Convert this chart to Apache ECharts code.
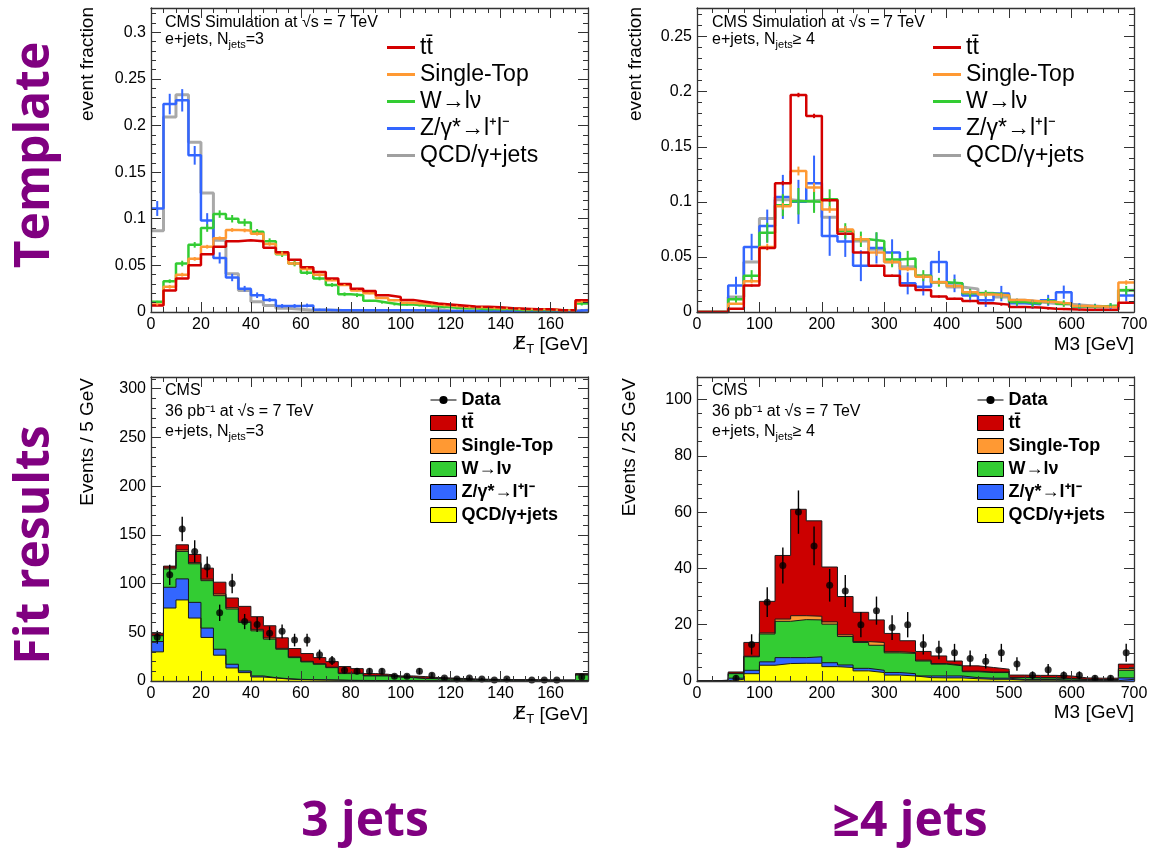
<!DOCTYPE html>
<html>
<head>
<meta charset="utf-8">
<script src="https://cdn.jsdelivr.net/npm/echarts@6/dist/echarts.min.js"></script>
<style>
  html, body { margin: 0; padding: 0; background: #ffffff; }
  #chart { width: 1149px; height: 848px; }
</style>
</head>
<body>
<div id="chart"></div>
<script>
// ---------------- binning ----------------
const MET_BIN_WIDTH = 5;    // GeV per bin, missing transverse energy (0-175)
const M3_BIN_WIDTH = 25;    // GeV per bin, M3 (0-700)

// process names, shared by templates, fitted stacks and legends
const processNames = ['tt\u0304', 'Single-Top', 'W\u2192l\u03bd', 'Z/\u03b3*\u2192l\u207al\u207b', 'QCD/\u03b3+jets'];

// ---------------- templates, e+jets, N_jets = 3 (missing ET), unit area ----------------
const ttTemplate3  = [0.007,0.023,0.036,0.050,0.062,0.070,0.076,0.077,0.076,0.069,0.064,0.056,0.048,0.043,0.036,0.030,0.025,0.0225,0.018,0.016,0.013,0.011,0.009,0.008,0.007,0.006,0.0055,0.005,0.004,0.0035,0.003,0.003,0.002,0.002,0.0125];
const stTemplate3  = [0.008,0.027,0.040,0.057,0.070,0.079,0.088,0.0875,0.084,0.073,0.0625,0.052,0.046,0.040,0.034,0.029,0.023,0.020,0.015,0.0125,0.010,0.009,0.008,0.007,0.006,0.005,0.005,0.004,0.004,0.003,0.003,0.003,0.002,0.002,0.011];
const wTemplate3   = [0.011,0.033,0.052,0.072,0.090,0.105,0.100,0.096,0.086,0.076,0.062,0.052,0.042,0.036,0.029,0.019,0.018,0.012,0.010,0.008,0.008,0.007,0.006,0.005,0.004,0.004,0.003,0.003,0.003,0.002,0.002,0.002,0.002,0.002,0.009];
const zTemplate3   = [0.111,0.223,0.227,0.168,0.098,0.058,0.037,0.025,0.018,0.013,0.0065,0.0065,0.007,0.0025,0.002,0.002,0.002,0.002,0.002,0.002,0.002,0.002,0.001,0.001,0.001,0.001,0.001,0.001,0.001,0.001,0.001,0.001,0.001,0.001,0.002];
const qcdTemplate3 = [0.087,0.209,0.233,0.182,0.1275,0.077,0.041,0.023,0.011,0.007,0.004,0.003,0.002,0.002,0.002,0.001,0.001,0.001,0.001,0.001,0.001,0.001,0.003,0.001,0.001,0.001,0.001,0.001,0.001,0.001,0.001,0.001,0.001,0.001,0.002];
// statistical uncertainties of the templates
const stTemplateErr3 = [0.001,0.002,0.002,0.002,0.002,0.002,0.002,0.002,0.002,0.002,0.002,0.002,0.002,0.002,0.001,0.001,0.001,0.001,0.001,0.001,0.001,0.001,0.001,0.001,0.001,0.001,0.001,0.001,0.001,0.001,0.001,0.001,0.001,0.001,0.001];
const wTemplateErr3  = [0.001,0.002,0.003,0.003,0.004,0.004,0.004,0.004,0.003,0.003,0.003,0.003,0.002,0.002,0.002,0.002,0.002,0.001,0.001,0.001,0.001,0.001,0.001,0.001,0.001,0.001,0.001,0.001,0.001,0.001,0.001,0.001,0.001,0.001,0.002];
const zTemplateErr3  = [0.008,0.011,0.012,0.010,0.008,0.006,0.004,0.003,0.003,0.002,0.002,0.002,0.002,0.001,0.001,0.001,0.001,0.001,0.001,0.001,0.001,0.001,0.001,0.001,0.001,0.001,0.001,0.001,0.001,0.001,0.001,0.001,0.001,0.001,0.001];

// ---------------- templates, e+jets, N_jets >= 4 (M3), unit area ----------------
const ttTemplate4  = [0,0,0.003,0.024,0.058,0.117,0.197,0.178,0.1015,0.071,0.054,0.042,0.033,0.024,0.020,0.014,0.012,0.010,0.008,0.0067,0.0045,0.004,0.003,0.0025,0.002,0.002,0.002,0.0085];
const stTemplate4  = [0,0,0.0075,0.028,0.059,0.096,0.128,0.113,0.093,0.075,0.066,0.054,0.0455,0.039,0.032,0.027,0.0236,0.018,0.016,0.015,0.011,0.0097,0.009,0.0076,0.0055,0.005,0.0045,0.0267];
const wTemplate4   = [0,0,0.0115,0.033,0.072,0.097,0.1006,0.100,0.1024,0.0736,0.066,0.0645,0.0476,0.0485,0.033,0.027,0.026,0.017,0.0167,0.015,0.009,0.0076,0.0097,0.0076,0.005,0.005,0.006,0.0197];
const zTemplate4   = [0,0,0.024,0.059,0.078,0.1045,0.100,0.117,0.069,0.064,0.042,0.058,0.054,0.026,0.023,0.0455,0.026,0.015,0.0106,0.0167,0.008,0.007,0.0106,0.018,0.005,0.0045,0.005,0.015];
const qcdTemplate4 = [0,0,0.0136,0.0455,0.085,0.102,0.1006,0.1015,0.086,0.074,0.0645,0.057,0.0455,0.041,0.033,0.027,0.0227,0.021,0.017,0.0136,0.0106,0.009,0.0076,0.007,0.006,0.005,0.005,0.0197];
const ttTemplateErr4 = [0,0,0.0005,0.001,0.0015,0.002,0.002,0.002,0.0015,0.0012,0.001,0.001,0.001,0.001,0.001,0.001,0.001,0.001,0.001,0.001,0.0008,0.0008,0.0008,0.0008,0.0008,0.0008,0.0008,0.001];
const stTemplateErr4 = [0,0,0.001,0.002,0.003,0.003,0.004,0.004,0.003,0.003,0.003,0.003,0.002,0.002,0.002,0.002,0.002,0.002,0.002,0.002,0.001,0.001,0.001,0.001,0.001,0.001,0.001,0.002];
const wTemplateErr4  = [0,0,0.003,0.005,0.009,0.010,0.012,0.010,0.009,0.007,0.007,0.008,0.007,0.007,0.005,0.004,0.004,0.004,0.003,0.003,0.003,0.003,0.003,0.003,0.002,0.002,0.002,0.004];
const zTemplateErr4  = [0,0,0.008,0.012,0.015,0.020,0.020,0.025,0.018,0.014,0.014,0.014,0.012,0.010,0.008,0.010,0.008,0.006,0.006,0.007,0.004,0.004,0.005,0.006,0.003,0.003,0.003,0.005];

// ---------------- fit results, N_jets = 3: events / 5 GeV ----------------
const ttFit3  = [2.0,1.9,5.3,8.4,11.3,12.1,10.0,15.3,13.0,12.4,10.8,8.6,8.0,6.3,5.7,6.6,4.7,2.0,1.4,0.9,1.4,1.7,1.1,0.9,0.6,0.5,0.5,0.4,0.3,0.3,0.2,0.2,0.2,0.2,1.1];
const stFit3  = [0.6,1.0,1.5,1.2,1.5,1.7,1.3,1.2,1.5,1.3,0.9,0.7,0.6,0.5,0.5,0.6,0.4,0.4,0.3,0.3,0.3,0.3,0.2,0.2,0.2,0.2,0.1,0.1,0.1,0.1,0.1,0.1,0.1,0.1,0.3];
const wFit3   = [5.9,18.8,28.2,39.6,48.7,55.0,56.7,49.8,46.3,39.6,30.2,22.3,18.2,16.0,12.7,6.9,7.0,4.7,4.7,3.6,3.1,2.2,2.0,1.8,1.6,1.3,1.1,1.0,0.9,0.8,0.8,0.7,0.6,0.6,5.5];
const zFit3   = [10.6,21.3,21.6,16.1,9.6,6.1,3.8,1.7,1.1,0.3,0.4,0.3,0.2,0.2,0.2,0.1,0.1,0.1,0.1,0.1,0.1,0.1,0.1,0,0,0,0,0,0,0,0,0,0,0,0.2];
const qcdFit3 = [29.9,74.9,83.2,64.6,44.7,26.5,13.4,8.6,4.1,3.1,2.0,1.4,1.2,1.0,0.8,0.6,0.5,0.4,0.4,0.3,0.3,0.2,0.2,0.2,0.2,0.1,0.1,0.1,0.1,0.1,0.1,0.1,0.1,0.1,0.5];
const data3    = [45,109,156,133,117,70,100,61,58,49,51,42,42,27,21,11,10,10,10,5,5,10,6,3,2,3,2,1,2,0,1,1,1,0,4];
const dataErr3 = [6.7,10.4,12.5,11.5,10.8,8.4,10,7.8,7.6,7,7.1,6.5,6.5,5.2,4.6,3.3,3.2,3.2,3.2,2.2,2.2,3.2,2.4,1.7,1.4,1.7,1.4,1,1.4,0,1,1,1,0,2];

// ---------------- fit results, N_jets >= 4: events / 25 GeV ----------------
const ttFit4  = [0,0.1,0.5,4.9,11.2,22.6,37.8,33.9,19.5,13.6,10.4,8.0,6.5,4.2,3.1,2.7,1.5,1.9,1.6,1.0,0.8,0.8,0.8,0.9,0.5,0.5,0.5,1.6];
const stFit4  = [0,0,0.1,0.2,0.4,0.8,1.4,1.3,0.8,0.6,0.3,1.0,0.4,0.3,0.3,0.2,0.2,0.2,0.2,0.2,0.1,0.1,0.1,0.1,0.1,0,0,0.6];
const wFit4   = [0,0.1,1.6,4.8,9.9,12.9,13.5,13.1,13.7,10.1,9.2,8.9,7.0,7.2,5.3,4.2,3.6,2.1,2.0,2.0,0.7,0.6,0.6,0.5,0.3,0.3,0.3,2.7];
const zFit4   = [0,0,0.4,1.2,1.2,2.1,2.0,2.3,1.4,0.9,0.9,0.8,0.9,0.8,0.6,0.7,0.7,0.4,0.4,0.4,0.2,0.2,0.2,0.1,0.1,0.1,0.1,0.5];
const qcdFit4 = [0,0.1,0.6,2.6,5.6,6.2,6.3,6.3,5.1,4.8,3.6,3.0,2.1,1.8,1.2,1.1,1.1,0.8,0.6,0.6,0.3,0.3,0.3,0.2,0.1,0.1,0.1,0.6];
const data4    = [0,0,1,13,28,41,60,48,34,32,20,25,19,20,13,11,10,8,7,10,6,2,4,2,2,1,1,10];
const dataErr4 = [0,0,1,3.6,5.3,6.4,7.7,6.9,5.8,5.7,4.5,5,4.4,4.5,3.6,3.3,3.2,2.8,2.6,3.2,2.4,1.4,2,1.4,1.4,1,1,3.2];

// ---------------- styling ----------------
const FONT = "'Liberation Sans', Arial, Helvetica, sans-serif";
const PURPLE = '#800080';
const LINE_COLORS = ['#d40000', '#ff9933', '#33cc33', '#3366ff', '#a0a0a0'];
const FILL_COLORS = ['#cc0000', '#ff9933', '#33cc33', '#3366ff', '#ffff00'];
const FRAME = '#333333';

// panel frames
const panels = [
  { left: 151, top: 8,   width: 437, height: 304 },
  { left: 697, top: 8,   width: 437, height: 304 },
  { left: 151, top: 377, width: 437, height: 304 },
  { left: 697, top: 377, width: 437, height: 304 }
];
const axisSpecs = [
  { x: { min: 0, max: 175, major: 20,  minor: 5 },  y: { min: 0, max: 0.326, major: 0.05, minor: 0.01 } },
  { x: { min: 0, max: 700, major: 100, minor: 25 }, y: { min: 0, max: 0.276, major: 0.05, minor: 0.01 } },
  { x: { min: 0, max: 175, major: 20,  minor: 5 },  y: { min: 0, max: 312,   major: 50,   minor: 10 } },
  { x: { min: 0, max: 700, major: 100, minor: 25 }, y: { min: 0, max: 108,   major: 20,   minor: 5 } }
];

// ---------------- helpers ----------------
// histogram outline points: left edge of each bin plus the closing right edge
function stepPoints(values, width) {
  const pts = values.map((v, i) => [i * width, v]);
  pts.push([values.length * width, values[values.length - 1]]);
  return pts;
}
// [binCentre, value, error] for bins with a non-zero error
function errorPoints(values, errs, width) {
  const out = [];
  values.forEach((v, i) => { if (errs[i] > 0) out.push([(i + 0.5) * width, v, errs[i]]); });
  return out;
}
// running sums of the stacked layers, bottom layer first
function cumulate(layers) {
  const out = [];
  let run = layers[0].map(() => 0);
  layers.forEach(layer => {
    run = run.map((s, i) => s + layer[i]);
    out.push(run.slice());
  });
  return out;
}

const xAxes = [];
const yAxes = [];
// four framed axes per panel (bottom/left with labels, top/right mirrored), each with major and minor tick layers
function addFrame(gridIndex, spec) {
  const common = { type: 'value', gridIndex: gridIndex, z: 10, splitLine: { show: false }, silent: true };
  const line = { show: true, onZero: false, lineStyle: { color: FRAME, width: 1.3 } };
  const noLine = { show: false, onZero: false };
  const labelFor = s => ({ show: true, color: '#000', fontFamily: FONT, fontSize: 16, margin: 5,
                           showMaxLabel: Math.abs(s.max / s.major - Math.round(s.max / s.major)) < 1e-9 });
  const noLabel = { show: false };
  const tick = len => ({ show: true, inside: true, length: len, lineStyle: { color: FRAME, width: 1 } });
  const xMain = xAxes.length;
  [['bottom', true], ['top', false]].forEach(([pos, withLabel]) => {
    xAxes.push(Object.assign({}, common, { position: pos, min: spec.x.min, max: spec.x.max, interval: spec.x.major,
      axisLine: line, axisTick: tick(10), axisLabel: withLabel ? labelFor(spec.x) : noLabel }));
    xAxes.push(Object.assign({}, common, { position: pos, min: spec.x.min, max: spec.x.max, interval: spec.x.minor,
      axisLine: noLine, axisTick: tick(5), axisLabel: noLabel }));
  });
  const yMain = yAxes.length;
  [['left', true], ['right', false]].forEach(([pos, withLabel]) => {
    yAxes.push(Object.assign({}, common, { position: pos, min: spec.y.min, max: spec.y.max, interval: spec.y.major,
      axisLine: line, axisTick: tick(10), axisLabel: withLabel ? labelFor(spec.y) : noLabel }));
    yAxes.push(Object.assign({}, common, { position: pos, min: spec.y.min, max: spec.y.max, interval: spec.y.minor,
      axisLine: noLine, axisTick: tick(5), axisLabel: noLabel }));
  });
  return { x: xMain, y: yMain };
}
const frames = axisSpecs.map((s, i) => addFrame(i, s));

const series = [];

// vertical error bars drawn through the panel's own scales
function errorBarSeries(name, frame, points, color, width) {
  return {
    type: 'custom', name: name, xAxisIndex: frame.x, yAxisIndex: frame.y,
    silent: true, animation: false, z: 4,
    encode: { x: 0, y: 1 },
    data: points,
    renderItem: function (params, api) {
      const x = api.value(0), y = api.value(1), e = api.value(2);
      const lo = api.coord([x, Math.max(0, y - e)]);
      const hi = api.coord([x, y + e]);
      return { type: 'line', shape: { x1: lo[0], y1: lo[1], x2: hi[0], y2: hi[1] },
               style: { stroke: color, lineWidth: width } };
    }
  };
}

// template panels: outlines drawn QCD first, ttbar last
function addTemplates(frame, width, hists, errs) {
  const order = [4, 3, 2, 1, 0];
  order.forEach(k => {
    series.push({
      type: 'line', name: processNames[k], xAxisIndex: frame.x, yAxisIndex: frame.y,
      step: 'end', symbol: 'none', showSymbol: false, silent: true, animation: false, z: 3,
      data: stepPoints(hists[k], width),
      lineStyle: { color: LINE_COLORS[k], width: k === 4 ? 3 : 2.5, opacity: k === 4 ? 0.9 : 1 },
      itemStyle: { color: LINE_COLORS[k] }
    });
  });
  order.forEach(k => {
    if (errs[k]) series.push(errorBarSeries(processNames[k], frame, errorPoints(hists[k], errs[k], width), LINE_COLORS[k], 2));
  });
}
addTemplates(frames[0], MET_BIN_WIDTH,
  [ttTemplate3, stTemplate3, wTemplate3, zTemplate3, qcdTemplate3],
  [null, stTemplateErr3, wTemplateErr3, zTemplateErr3, null]);
addTemplates(frames[1], M3_BIN_WIDTH,
  [ttTemplate4, stTemplate4, wTemplate4, zTemplate4, qcdTemplate4],
  [ttTemplateErr4, stTemplateErr4, wTemplateErr4, zTemplateErr4, null]);

// fit panels: stacked filled histograms (QCD at the bottom, ttbar on top) plus data
function addFit(frame, width, layersTopDown, data, dataErr) {
  const bottomUp = layersTopDown.slice().reverse();       // QCD, Z, W, single top, ttbar
  const sums = cumulate(bottomUp);                          // running totals
  for (let j = sums.length - 1; j >= 0; j--) {
    const k = 4 - j;                                        // process index
    series.push({
      type: 'line', name: processNames[k], xAxisIndex: frame.x, yAxisIndex: frame.y,
      step: 'end', symbol: 'none', showSymbol: false, silent: true, animation: false, z: 2,
      data: stepPoints(sums[j], width),
      lineStyle: { color: '#1a1a1a', width: 1 },
      itemStyle: { color: FILL_COLORS[k] },
      areaStyle: { color: FILL_COLORS[k], opacity: 1 }
    });
  }
  const pts = [];
  data.forEach((v, i) => { if (v > 0) pts.push([(i + 0.5) * width, v]); });
  series.push(errorBarSeries('Data', frame, errorPoints(data, dataErr, width), '#000', 1.4));
  series.push({
    type: 'scatter', name: 'Data', xAxisIndex: frame.x, yAxisIndex: frame.y,
    symbol: 'circle', symbolSize: 7, silent: true, animation: false, z: 5,
    itemStyle: { color: '#000' }, data: pts
  });
}
addFit(frames[2], MET_BIN_WIDTH, [ttFit3, stFit3, wFit3, zFit3, qcdFit3], data3, dataErr3);
addFit(frames[3], M3_BIN_WIDTH, [ttFit4, stFit4, wFit4, zFit4, qcdFit4], data4, dataErr4);

// ---------------- legends ----------------
function templateLegend(left, top) {
  return {
    orient: 'vertical', left: left, top: top, itemWidth: 28, itemHeight: 3, itemGap: 4,
    icon: 'rect', selectedMode: false, padding: 0,
    textStyle: { fontFamily: FONT, fontSize: 23, color: '#000' },
    data: processNames.map((n, k) => ({ name: n, itemStyle: { color: LINE_COLORS[k], borderWidth: 0 } }))
  };
}
function fitLegend(left, top) {
  const items = [{ name: 'Data', icon: 'path://M0,4.6 L26,4.6 L26,5.8 L0,5.8 Z M13,1.1 A4.1,4.1 0 1,1 12.99,1.1 Z',
                   itemStyle: { color: '#000', borderWidth: 0 } }];
  processNames.forEach((n, k) => items.push({ name: n, icon: 'rect',
    itemStyle: { color: FILL_COLORS[k], borderColor: '#000', borderWidth: 1 } }));
  return {
    orient: 'vertical', left: left, top: top, itemWidth: 26, itemHeight: 15, itemGap: 5,
    selectedMode: false, padding: 0,
    textStyle: { fontFamily: FONT, fontSize: 18, fontWeight: 'bold', color: '#000' },
    data: items
  };
}

// ---------------- texts ----------------
const sub = {
  m: { fontFamily: FONT, fontSize: 16, lineHeight: 18, padding: [0, 0, 7, 0], verticalAlign: 'top', fill: '#000' },
  s: { fontFamily: FONT, fontSize: 11, lineHeight: 12, verticalAlign: 'bottom', fill: '#000' }
};
const subAxis = {
  m: { fontFamily: FONT, fontSize: 19, lineHeight: 21, padding: [0, 0, 6, 0], verticalAlign: 'top', fill: '#000' },
  // slashed E set in one font so the overlay solidus combines with its base letter
  e: { fontFamily: "'DejaVu Sans', sans-serif", fontSize: 18, lineHeight: 21, padding: [0, 0, 6, 0], verticalAlign: 'top', fill: '#000' },
  s: { fontFamily: FONT, fontSize: 13, lineHeight: 13, verticalAlign: 'bottom', fill: '#000' }
};
function plain(x, y, text, size, extra) {
  return { type: 'text', x: x, y: y, z: 20, silent: true,
           style: Object.assign({ text: text, fontFamily: FONT, fontSize: size, fill: '#000',
                                  align: 'left', verticalAlign: 'middle' }, extra || {}) };
}
function rich(x, yTop, text, styles, align) {
  return { type: 'text', x: x, y: yTop, z: 20, silent: true,
           style: { text: text, rich: styles, align: align || 'left', verticalAlign: 'top' } };
}
function yTitle(x, yTop, text) {
  return { type: 'text', x: x, y: yTop, rotation: Math.PI / 2, z: 20, silent: true,
           style: { text: text, fontFamily: FONT, fontSize: 19, fill: '#000', align: 'right', verticalAlign: 'middle' } };
}
function bigLabel(x, y, text, rotated) {
  return { type: 'text', x: x, y: y, rotation: rotated ? Math.PI / 2 : 0, z: 20, silent: true,
           style: { text: text, fontFamily: "'Open Sans', 'Noto Sans', sans-serif", fontWeight: 'bold',
                    fontSize: 48, fill: PURPLE, align: 'center', verticalAlign: 'middle' } };
}

const graphics = [
  // template panel captions
  plain(165, 23, 'CMS Simulation at \u221As = 7 TeV', 16),
  rich(165, 32, '{m|e+jets, N}{s|jets}{m|=3}', sub),
  plain(712, 23, 'CMS Simulation at \u221As = 7 TeV', 16),
  rich(712, 32, '{m|e+jets, N}{s|jets}{m|\u2265 4}', sub),
  // fit panel captions
  plain(165, 391, 'CMS', 16),
  plain(165, 412, '36 pb\u207b\u00b9 at \u221As = 7 TeV', 16),
  rich(165, 424, '{m|e+jets, N}{s|jets}{m|=3}', sub),
  plain(712, 391, 'CMS', 16),
  plain(712, 412, '36 pb\u207b\u00b9 at \u221As = 7 TeV', 16),
  rich(712, 424, '{m|e+jets, N}{s|jets}{m|\u2265 4}', sub),
  // axis titles
  yTitle(88, 7, 'event fraction'),
  yTitle(636, 7, 'event fraction'),
  yTitle(88, 378, 'Events / 5 GeV'),
  yTitle(630, 378, 'Events / 25 GeV'),
  rich(588, 335, '{e|E\u0338}{s|T}{m| [GeV]}', subAxis, 'right'),
  rich(1134, 335, '{m|M3 [GeV]}', subAxis, 'right'),
  rich(588, 705, '{e|E\u0338}{s|T}{m| [GeV]}', subAxis, 'right'),
  rich(1134, 703, '{m|M3 [GeV]}', subAxis, 'right'),
  // row and column headings
  bigLabel(35, 155, 'Template', true),
  bigLabel(35, 545, 'Fit results', true),
  bigLabel(365, 822, '3 jets', false),
  bigLabel(910, 822, '\u22654 jets', false)
];

const chart = echarts.init(document.getElementById('chart'), null, { renderer: 'canvas' });
chart.setOption({
  backgroundColor: '#ffffff',
  animation: false,
  grid: panels.map(p => Object.assign({ containLabel: false, outerBoundsMode: 'none', show: false }, p)),
  xAxis: xAxes,
  yAxis: yAxes,
  legend: [templateLegend(387, 36), templateLegend(933, 36), fitLegend(430, 391), fitLegend(977, 391)],
  series: series,
  graphic: { elements: graphics }
});
</script>
</body>
</html>
